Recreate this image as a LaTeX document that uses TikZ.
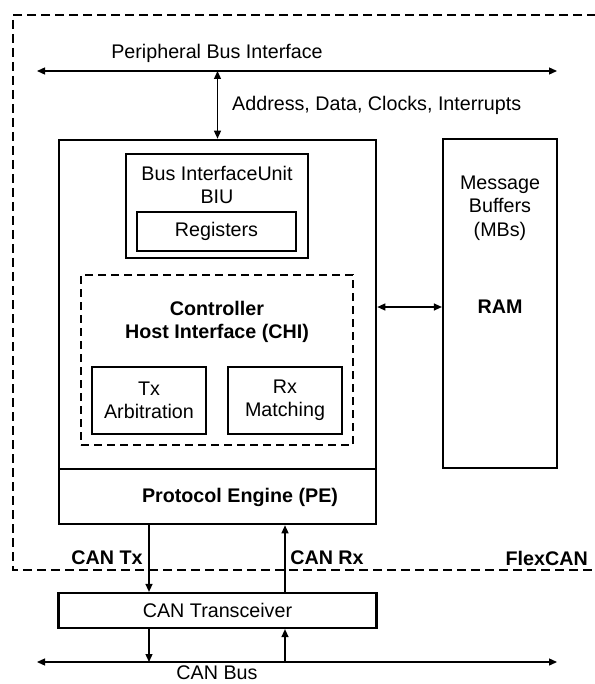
\documentclass[tikz,border=0pt]{standalone}
\usepackage{fontspec}
\setmainfont{Liberation Sans}
\usepackage{tikz}
\usetikzlibrary{arrows.meta, positioning, calc}

\begin{document}
\begin{tikzpicture}[
    x=1pt, y=-1pt,
    font=\fontsize{19.7}{23.5}\selectfont,
    blk/.style={
        draw, line width=2.2pt,
        inner sep=0pt,
        align=center
    },
    outline/.style={blk, line width=2.6pt},
    dashbox/.style={draw, line width=1.3pt, dash pattern=on 8pt off 5pt},
    lbl/.style={inner sep=0pt, align=center},
    bold/.style={lbl, font=\fontsize{19.7}{23.5}\selectfont\bfseries},
    link/.style={line width=1.3pt, -{Triangle[length=8pt,width=7pt]}},
    dbl/.style={link, {Triangle[length=8pt,width=7pt]}-{Triangle[length=8pt,width=7pt]}}
]
\useasboundingbox (0,0) rectangle (594,684);

% ------- FlexCAN boundary -------
\draw[line width=1.3pt, dash pattern=on 9pt off 5pt]
    (610,15) -- (13,15) -- (13,570) -- (610,570);
\node[bold, anchor=east] (flex) at (588,558) {FlexCAN};

% ------- Peripheral bus -------
\coordinate (pbW) at (37,71);
\coordinate (pbE) at (557,71);
\draw[dbl] (pbW) -- (pbE);
\node[lbl] (pbi) at (217,53) {Peripheral Bus Interface};

% ------- Main block -------
\node[outline, minimum width=317pt, minimum height=384pt] (chip) at (217.5,332) {};
\draw[dbl] (chip.north |- pbW) -- (chip.north);
\node[lbl, anchor=west] (sig) at (232,105) {Address, Data, Clocks, Interrupts};

% BIU with registers
\node[outline, minimum width=182pt, minimum height=104pt] (biu) at (217,206) {};
\node[lbl] (biulbl) at (217,185) {Bus InterfaceUnit\\BIU};
\node[blk, minimum width=159pt, minimum height=39pt] (regs) at (216.5,231.5) {Registers};

% CHI (dashed)
\node[dashbox, minimum width=272pt, minimum height=170pt] (chi) at (217,360) {};
\node[bold] (chilbl) at (217,322) {Controller\\Host Interface (CHI)};
\node[blk, minimum width=114pt, minimum height=67pt] (txarb) at (149,400.5)
    {Tx\\Arbitration};
\node[blk, minimum width=114pt, minimum height=67pt] (rxmatch) at (285,400.5)
    {Rx\\Matching};

% Protocol engine
\node[outline, minimum width=317pt, minimum height=55pt, anchor=south] (pe) at (chip.south) {};
\node[bold] (pelbl) at (240,497) {Protocol Engine (PE)};

% ------- Message buffers -------
\node[blk, minimum width=114pt, minimum height=329pt] (ram) at (500,303.5) {};
\node[lbl] (mbs) at (500,208) {Message\\Buffers\\(MBs)};
\node[bold] (ramlbl) at (500,307) {RAM};
\draw[dbl] (chip.east |- ramlbl) -- (ram.west |- ramlbl);

% ------- Transceiver -------
\node[blk, minimum width=318pt, minimum height=35pt] (xcvr) at (217.5,610.5) {CAN Transceiver};
\draw[link] (txarb |- chip.south) -- (txarb |- xcvr.north);
\draw[link] (rxmatch |- xcvr.north) -- (rxmatch |- chip.south);
\node[bold] (cantx) at (107,558) {CAN Tx};
\node[bold] (canrx) at (327,558) {CAN Rx};

% ------- CAN bus -------
\coordinate (cbW) at (37,662);
\coordinate (cbE) at (557,662);
\draw[dbl] (cbW) -- (cbE);
\draw[link] (txarb |- xcvr.south) -- (txarb |- cbW);
\draw[link] (rxmatch |- cbW) -- (rxmatch |- xcvr.south);
\node[lbl] (canbus) at (217,673) {CAN Bus};
\end{tikzpicture}
\end{document}
